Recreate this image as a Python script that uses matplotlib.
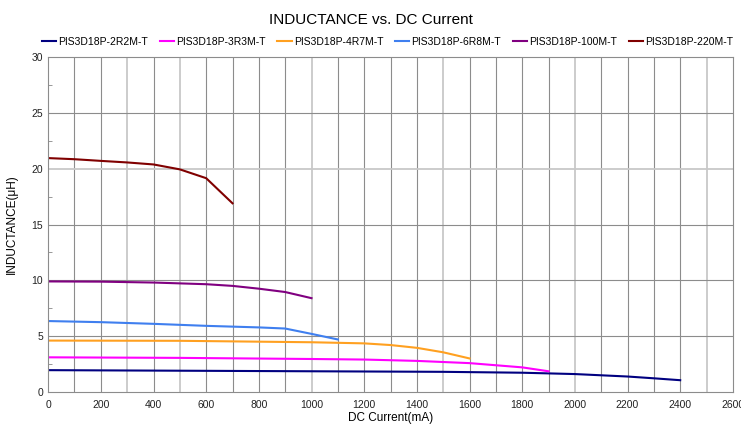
import matplotlib
matplotlib.use('Agg')
from matplotlib import pyplot as plt
import numpy as np

matplotlib.rcParams.update({'font.family': 'Liberation Sans', 'font.size': 8})

# ------------------------------ data -------------------------------------
names = ['PIS3D18P-2R2M-T', 'PIS3D18P-3R3M-T', 'PIS3D18P-4R7M-T',
         'PIS3D18P-6R8M-T', 'PIS3D18P-100M-T', 'PIS3D18P-220M-T']
colors = ['#000080', '#ff00ff', '#ffa020', '#3f7fef', '#800080', '#800000']

i_2r2 = [0, 500, 1000, 1500, 1800, 2000, 2200, 2300, 2400]
l_2r2 = [1.95, 1.9, 1.85, 1.8, 1.72, 1.6, 1.38, 1.22, 1.05]

i_3r3 = [0, 500, 1000, 1200, 1400, 1600, 1800, 1900]
l_3r3 = [3.1, 3.05, 2.95, 2.9, 2.78, 2.58, 2.2, 1.85]

i_4r7 = [0, 500, 1000, 1200, 1300, 1400, 1500, 1600]
l_4r7 = [4.6, 4.58, 4.45, 4.35, 4.2, 3.95, 3.55, 3.0]

i_6r8 = [0, 200, 400, 600, 700, 800, 900, 1000, 1100]
l_6r8 = [6.35, 6.25, 6.1, 5.92, 5.85, 5.78, 5.68, 5.2, 4.7]

i_100 = [0, 200, 400, 600, 700, 800, 900, 1000]
l_100 = [9.9, 9.88, 9.8, 9.65, 9.5, 9.25, 8.95, 8.4]

i_220 = [0, 100, 200, 300, 400, 500, 600, 700]
l_220 = [20.95, 20.85, 20.7, 20.56, 20.38, 19.94, 19.15, 16.9]

currents = [i_2r2, i_3r3, i_4r7, i_6r8, i_100, i_220]
inductances = [l_2r2, l_3r3, l_4r7, l_6r8, l_100, l_220]

# ------------------------------ figure -----------------------------------
fig = plt.figure(figsize=(7.41, 4.26), dpi=100)
fig.subplots_adjust(left=0.065, right=0.989, top=0.866, bottom=0.080)
ax = fig.add_subplot(111)

# grid: every 100 mA, every 5 uH
for x in np.arange(100, 2600, 100):
    light = (x % 500 == 0) or x == 300
    ax.axvline(x, color='#c8c8c8' if light else '#8c8c8c',
               lw=1.3 if light else 0.8, zorder=0)
for y in np.arange(5, 30, 5):
    ax.axhline(y, color='#c8c8c8' if y == 20 else '#8c8c8c',
               lw=1.3 if y == 20 else 0.8, zorder=0)

for x, y, c, n in zip(currents, inductances, colors, names):
    ax.plot(x, y, color=c, lw=1.5, label=n)

ax.set_xlim(0, 2600)
ax.set_ylim(0, 30)
ax.set_xticks(np.arange(0, 2601, 200))
ax.set_yticks(np.arange(0, 31, 5))
ax.set_yticks(np.arange(2.5, 30, 5), minor=True)
ax.tick_params(axis='both', which='major', length=0, labelsize=7.5, colors='#222222')
ax.tick_params(axis='y', which='minor', direction='in', length=3, color='#888888')
ax.tick_params(axis='x', pad=6)
for s in ax.spines.values():
    s.set_color('#8c8c8c')
    s.set_linewidth(0.8)

ax.set_xlabel('DC Current(mA)', fontsize=8.5, labelpad=1)
ax.set_ylabel('INDUCTANCE(\u03bcH)', fontsize=8.5, labelpad=10)

fig.suptitle('INDUCTANCE vs. DC Current', fontsize=11, y=0.97)
fig.legend(loc='upper center', bbox_to_anchor=(0.523, 0.935), ncol=6, frameon=False,
           fontsize=7.5, handlelength=1.4, handletextpad=0.2, columnspacing=1.1)

fig.savefig('out.png', dpi=100)
